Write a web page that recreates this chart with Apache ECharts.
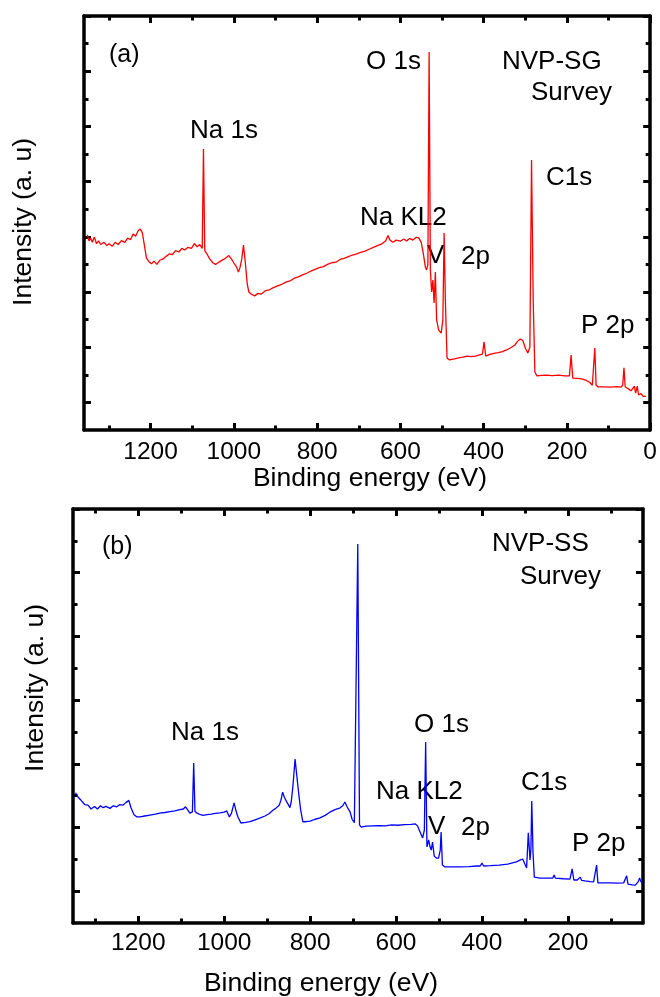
<!DOCTYPE html>
<html>
<head>
<meta charset="utf-8">
<script src="https://cdn.jsdelivr.net/npm/echarts@6/dist/echarts.min.js"></script>
<style>
html,body{margin:0;padding:0;background:#fff;}
#chart{width:660px;height:997px;}
</style>
</head>
<body>
<div id="chart"></div>
<script>
// ---------- Data (a): NVP-SG survey ----------
const energyA = [1352,1348,1344,1340,1335,1330,1325,1320,1312,1305,1300,1292,1285,1278,1270,1262,1255,1248,1242,1236,1230,1225,1220,1215,1210,1204,1198,1192,1185,1178,1170,1162,1155,1148,1140,1132,1125,1118,1110,1102,1095,1088,1082,1076,1073,1070,1064,1058,1050,1044,1038,1032,1025,1018,1012,1006,1000,994,989,985,981,977,973,968,964,958,950,942,935,925,915,905,895,885,875,865,855,845,835,825,815,805,795,785,775,765,755,745,735,725,715,705,695,685,675,665,655,645,635,630,625,618,610,600,592,585,578,570,562,556,550,545,540,537,534,531,528,525,522,519,516,513,508,502,498,495,492,488,482,470,460,450,440,430,420,410,403,399,395,385,375,365,355,345,335,325,318,312,306,300,294,289,285,281,277,272,260,250,235,220,205,194,190,186,175,165,155,145,139,136,133,130,125,110,95,80,70,66,63,60,52,46,43,38,35,31,28,22,17,10];
const intensityA = [7.07,6.85,6.95,6.80,6.99,6.75,6.85,6.72,6.80,6.68,6.75,6.66,6.80,6.72,6.86,6.80,6.95,6.90,7.10,7.02,7.22,7.28,7.15,6.70,6.23,6.10,6.02,6.12,6.00,6.15,6.20,6.30,6.38,6.35,6.50,6.45,6.58,6.52,6.62,6.58,6.75,6.64,6.72,6.58,10.18,6.50,6.36,6.20,6.05,6.00,6.06,6.12,6.18,6.25,6.32,6.20,6.05,5.92,5.72,5.90,6.20,6.70,6.15,5.30,5.00,4.92,4.86,4.95,4.92,5.04,5.08,5.16,5.22,5.28,5.36,5.40,5.50,5.55,5.62,5.68,5.76,5.82,5.88,5.92,6.00,6.06,6.08,6.18,6.22,6.28,6.34,6.38,6.44,6.48,6.55,6.62,6.68,6.74,6.86,7.05,6.88,6.80,6.88,6.84,6.92,6.85,6.94,6.88,6.98,6.96,6.80,6.40,5.90,5.80,6.00,13.70,5.80,5.00,5.43,4.60,5.72,3.99,3.62,3.51,3.99,7.14,4.71,2.61,2.54,2.58,2.61,2.64,2.68,2.66,2.68,2.72,2.75,3.19,2.68,2.74,2.78,2.80,2.84,2.90,2.98,3.08,3.22,3.30,3.24,2.97,2.79,3.00,9.78,4.71,2.10,1.96,1.98,1.99,1.97,1.99,1.96,1.96,2.72,1.88,1.87,1.85,1.81,1.72,1.62,1.59,2.97,1.63,1.56,1.56,1.55,1.57,1.55,1.63,2.25,1.56,1.49,1.42,1.38,1.59,1.34,1.59,1.27,1.32,1.22,1.22];

// ---------- Data (b): NVP-SS survey ----------
const energyB = [1346,1340,1335,1331,1325,1317,1310,1302,1295,1288,1282,1275,1266,1258,1250,1243,1236,1229,1222,1217,1210,1203,1196,1185,1173,1160,1150,1138,1126,1115,1103,1095,1090,1085,1080,1074,1071,1068,1063,1055,1049,1040,1030,1021,1010,1000,994,988,983,977,972,968,961,950,940,928,916,905,895,886,880,877,872,868,864,860,855,850,847,844,840,835,830,826,822,817,810,800,790,777,765,754,742,731,724,719,714,707,702,697,693,689,685,681,670,655,640,625,610,595,580,565,555,550,544,538,534,531,528,524,521,518,515,511,506,501,497,495,492,486,470,451,430,412,404,400,396,380,360,340,320,310,305,300,296,292,288,286,284,281,278,265,250,235,232,229,210,195,190,186,178,171,168,160,148,140,133,130,115,100,85,70,66,63,60,50,43,36,33,30,27];
const intensityB = [4.09,3.95,3.88,3.86,3.72,3.70,3.58,3.66,3.58,3.68,3.62,3.66,3.60,3.68,3.65,3.72,3.70,3.78,3.85,3.62,3.40,3.33,3.33,3.36,3.39,3.42,3.45,3.47,3.50,3.52,3.56,3.58,3.65,3.55,3.45,3.49,5.02,3.50,3.45,3.40,3.38,3.40,3.42,3.44,3.46,3.48,3.52,3.33,3.45,3.77,3.50,3.33,3.14,3.16,3.18,3.24,3.30,3.36,3.44,3.55,3.60,3.66,3.70,3.85,4.11,3.95,3.82,3.70,3.62,3.80,4.30,5.15,4.50,4.00,3.55,3.18,3.18,3.20,3.25,3.30,3.38,3.48,3.56,3.61,3.68,3.80,3.65,3.49,3.25,3.15,3.14,11.90,3.08,3.01,3.04,3.05,3.06,3.05,3.08,3.07,3.09,3.10,3.11,3.05,2.86,2.67,2.92,5.68,2.39,2.61,2.40,2.29,2.54,2.10,2.04,2.04,2.29,2.86,1.82,1.76,1.76,1.76,1.77,1.79,1.79,1.88,1.79,1.80,1.82,1.85,1.92,1.98,2.01,1.85,1.73,2.83,1.98,2.30,3.83,2.20,1.44,1.41,1.41,1.41,1.51,1.41,1.39,1.38,1.70,1.35,1.35,1.44,1.34,1.32,1.30,1.29,1.82,1.26,1.26,1.26,1.25,1.26,1.26,1.48,1.22,1.20,1.19,1.30,1.41,1.30,1.26];

// ---------- Tick values / labels ----------
const xMajorA = [0,200,400,600,800,1000,1200];
const xMinorA = [100,300,500,700,900,1100,1300];
const xMajorB = [200,400,600,800,1000,1200];
const xMinorB = [100,300,500,700,900,1100,1300];
const yMajorA = [1,3,5,7,9,11,13,15];
const yMinorA = [2,4,6,8,10,12,14];
const yMajorB = [1,3,5,7,9,11,13];
const yMinorB = [2,4,6,8,10,12];

const xTitle = 'Binding energy (eV)';
const yTitle = 'Intensity (a. u)';

const FONT = '"Liberation Sans", Arial, Helvetica, sans-serif';
const AXW = 3.5;
const TICKFS = 24.5;
const ANNFS = 26;
const TITLEFS = 26.5;

function xAxes(grid, min, max, majors, minors, labelMargin) {
  const base = {type:'value', gridIndex:grid, min:min, max:max, inverse:true, splitLine:{show:false}};
  const line = {show:true, onZero:false, lineStyle:{color:'#000', width:AXW}};
  const noline = {show:false, onZero:false};
  const tick = (vals, len) => ({show:true, inside:true, length:len, customValues:vals, lineStyle:{color:'#000', width:3}});
  return [
    Object.assign({}, base, {position:'bottom', axisLine:line, axisTick:tick(majors,7),
      axisLabel:{show:true, customValues:majors, color:'#000', fontSize:TICKFS, fontFamily:FONT, margin:labelMargin,
        formatter:function (v) { return String(v); }}}),
    Object.assign({}, base, {position:'bottom', axisLine:noline, axisTick:tick(minors,4.5), axisLabel:{show:false}}),
    Object.assign({}, base, {position:'top', axisLine:line, axisTick:tick(majors,7), axisLabel:{show:false}}),
    Object.assign({}, base, {position:'top', axisLine:noline, axisTick:tick(minors,4.5), axisLabel:{show:false}})
  ];
}
function yAxes(grid, max, majors, minors) {
  const base = {type:'value', gridIndex:grid, min:0, max:max, splitLine:{show:false}, axisLabel:{show:false}};
  const line = {show:true, onZero:false, lineStyle:{color:'#000', width:AXW}};
  const noline = {show:false, onZero:false};
  const tick = (vals, len) => ({show:true, inside:true, length:len, customValues:vals, lineStyle:{color:'#000', width:3}});
  return [
    Object.assign({}, base, {position:'left', axisLine:line, axisTick:tick(majors,7)}),
    Object.assign({}, base, {position:'left', axisLine:noline, axisTick:tick(minors,4.5)}),
    Object.assign({}, base, {position:'right', axisLine:line, axisTick:tick(majors,7)}),
    Object.assign({}, base, {position:'right', axisLine:noline, axisTick:tick(minors,4.5)})
  ];
}
function zip(a, b) { return a.map((v, i) => [v, b[i]]); }
function txt(text, x, y, size, extra) {
  return Object.assign({type:'text', x:x, y:y, silent:true,
    style:{text:text, fill:'#000', fontSize:size, fontFamily:FONT, align:'left', verticalAlign:'middle'}}, extra || {});
}
function ctxt(text, x, y, size, rot) {
  return {type:'text', x:x, y:y, rotation:rot || 0, silent:true,
    style:{text:text, fill:'#000', fontSize:size, fontFamily:FONT, align:'center', verticalAlign:'middle'}};
}

const chart = echarts.init(document.getElementById('chart'), null, {renderer:'canvas'});
chart.setOption({
  animation:false,
  backgroundColor:'#fff',
  grid:[
    {left:84, top:16, width:568, height:414},
    {left:73, top:509, width:570, height:414}
  ],
  xAxis: xAxes(0, 0, 1360, xMajorA, xMinorA, 10).concat(xAxes(1, 25, 1352, xMajorB, xMinorB, 8)),
  yAxis: yAxes(0, 15, yMajorA, yMinorA).concat(yAxes(1, 13, yMajorB, yMinorB)),
  series:[
    {type:'line', name:'NVP-SG', xAxisIndex:0, yAxisIndex:0, data:zip(energyA, intensityA),
      showSymbol:false, symbol:'none', lineStyle:{color:'#ff0000', width:1.3}, itemStyle:{color:'#ff0000'}},
    {type:'line', name:'NVP-SS', xAxisIndex:4, yAxisIndex:4, data:zip(energyB, intensityB),
      showSymbol:false, symbol:'none', lineStyle:{color:'#0000ff', width:1.3}, itemStyle:{color:'#0000ff'}}
  ],
  graphic:[
    // panel (a)
    txt('(a)', 109, 55, 25),
    txt('Na 1s', 190, 131, ANNFS),
    txt('O 1s', 366, 62, ANNFS),
    txt('NVP-SG', 502, 62, ANNFS),
    txt('Survey', 531, 93, ANNFS),
    txt('C1s', 546, 178, ANNFS),
    txt('Na KL2', 360, 218, ANNFS),
    txt('V', 427, 256, ANNFS),
    txt('2p', 461, 257, ANNFS),
    txt('P 2p', 581, 326, ANNFS),
    ctxt(xTitle, 370, 479, TITLEFS),
    ctxt(yTitle, 24, 222, TITLEFS, Math.PI / 2),
    // panel (b)
    txt('(b)', 102, 547, 25),
    txt('NVP-SS', 492, 544, ANNFS),
    txt('Survey', 520, 577, ANNFS),
    txt('Na 1s', 171, 733, ANNFS),
    txt('O 1s', 414, 725, ANNFS),
    txt('Na KL2', 376, 792, ANNFS),
    txt('V', 428, 827, ANNFS),
    txt('2p', 461, 828, ANNFS),
    txt('C1s', 521, 783, ANNFS),
    txt('P 2p', 572, 844, ANNFS),
    ctxt(xTitle, 321, 984, TITLEFS),
    ctxt(yTitle, 36, 688, TITLEFS, Math.PI / 2)
  ]
});
</script>
</body>
</html>
